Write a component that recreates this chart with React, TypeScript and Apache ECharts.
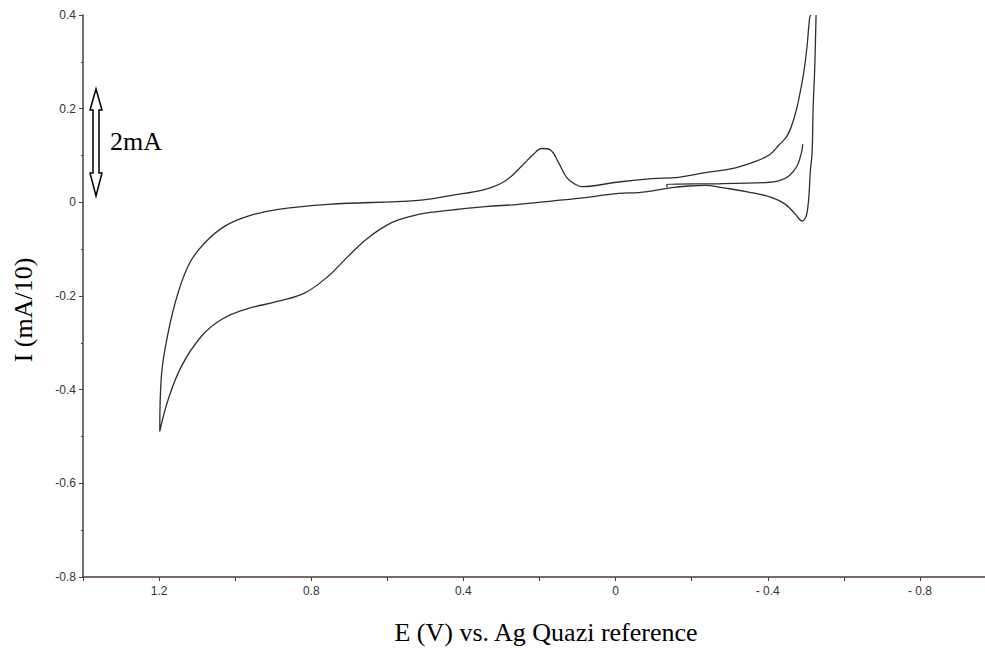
import React, { useEffect, useRef } from 'react';
import * as echarts from 'echarts';

// Main cyclic voltammogram loop (E in V, I in mA/10)
const loopE = [-0.527, -0.5237, -0.5192, -0.5166, -0.5124, -0.5034, -0.4903, -0.4729, -0.4466, -0.4113, -0.35, -0.2797, -0.236, -0.192, -0.148, -0.0605, -0.0079, 0.0797, 0.1676, 0.2553, 0.3429, 0.4308, 0.4921, 0.536, 0.5887, 0.65, 0.7026, 0.7553, 0.8166, 0.8868, 0.9745, 1.036, 1.0887, 1.1413, 1.1763, 1.1982, 1.194, 1.1763, 1.15, 1.1192, 1.0797, 1.0271, 0.9658, 0.8868, 0.7553, 0.5184, 0.4308, 0.3429, 0.2903, 0.2466, 0.2158, 0.194, 0.1718, 0.15, 0.1282, 0.1061, 0.0887, 0.0624, -0.0079, -0.0955, -0.1658, -0.236, -0.306, -0.3587, -0.4026, -0.4289, -0.4508, -0.4684, -0.4816, -0.4947, -0.5034, -0.5097, -0.5124];
const loopI = [0.4, 0.2916, 0.199, 0.106, 0.0706, -0.022, -0.04, -0.0257, -0.0043, 0.0101, 0.022, 0.0314, 0.0364, 0.0349, 0.0314, 0.0207, 0.0193, 0.0101, 0.0028, -0.0043, -0.0092, -0.0165, -0.022, -0.0293, -0.0434, -0.0755, -0.1149, -0.1576, -0.1932, -0.2111, -0.2289, -0.2503, -0.286, -0.3502, -0.4214, -0.4892, -0.3716, -0.2787, -0.1932, -0.129, -0.0862, -0.0507, -0.0293, -0.015, -0.0043, 0.0043, 0.015, 0.0278, 0.0456, 0.0776, 0.1027, 0.1149, 0.1119, 0.0849, 0.0528, 0.0385, 0.0336, 0.0349, 0.0434, 0.0507, 0.0535, 0.0635, 0.0721, 0.0849, 0.1005, 0.1219, 0.1418, 0.1775, 0.2203, 0.2774, 0.3343, 0.3914, 0.4];

// Initial partial scan segment
const startE = [-0.135, -0.135, -0.271, -0.3939, -0.4289, -0.4553, -0.4771, -0.4887, -0.4921];
const startI = [0.032, 0.0385, 0.0396, 0.0421, 0.0456, 0.0563, 0.0776, 0.1063, 0.1241];

const xTickValues = [1.2, 0.8, 0.4, 0, -0.4, -0.8];
const xTickLabels = ['1.2', '0.8', '0.4', '0', '- 0.4', '- 0.8'];
const yTickValues = [0.4, 0.2, 0, -0.2, -0.4, -0.6, -0.8];
const yTickLabels = ['0.4', '0.2', '0', '-0.2', '-0.4', '-0.6', '-0.8'];

const xTitle = 'E (V) vs. Ag Quazi reference';
const yTitle = 'I (mA/10)';
const scaleLabel = '2mA';

const lookup = (vals: number[], labels: string[]) => (v: number) => {
  const i = vals.findIndex((t) => Math.abs(t - v) < 1e-6);
  return i >= 0 ? labels[i] : '';
};

const axisColor = '#4e3b3b';
const serif = "'Liberation Serif', 'Times New Roman', serif";
const sans = "'Liberation Sans', Arial, sans-serif";

export default function App() {
  const ref = useRef<HTMLDivElement>(null);
  useEffect(() => {
    if (!ref.current) return;
    const chart = echarts.init(ref.current, undefined, { renderer: 'svg' });
    const lineStyle = { color: '#2e2e2e', width: 1.3 };
    chart.setOption({
      animation: false,
      backgroundColor: '#ffffff',
      grid: { left: 83, top: 15, right: 4, height: 562, containLabel: false },
      xAxis: {
        type: 'value',
        inverse: true,
        min: -1.0,
        max: 1.4,
        interval: 0.2,
        axisLine: { onZero: false, lineStyle: { color: axisColor, width: 1.5 } },
        axisTick: { show: true, length: 4, lineStyle: { color: axisColor, width: 1 } },
        axisLabel: {
          formatter: lookup(xTickValues, xTickLabels),
          color: '#333',
          fontSize: 12,
          fontFamily: sans,
          margin: 8,
          showMinLabel: true,
          showMaxLabel: true,
        },
        splitLine: { show: false },
      },
      yAxis: {
        type: 'value',
        min: -0.8,
        max: 0.4,
        interval: 0.2,
        axisLine: { show: true, onZero: false, lineStyle: { color: axisColor, width: 1.5 } },
        axisTick: { show: true, length: 4, lineStyle: { color: axisColor, width: 1 } },
        minorTick: { show: true, splitNumber: 2, length: 2, lineStyle: { color: axisColor, width: 1 } },
        axisLabel: {
          formatter: lookup(yTickValues, yTickLabels),
          color: '#333',
          fontSize: 12,
          fontFamily: sans,
          margin: 7,
        },
        splitLine: { show: false },
      },
      series: [
        {
          type: 'line',
          data: loopE.map((e, i) => [e, loopI[i]]),
          showSymbol: false,
          smooth: 0.4,
          lineStyle,
        },
        {
          type: 'line',
          data: startE.map((e, i) => [e, startI[i]]),
          showSymbol: false,
          smooth: 0.3,
          lineStyle,
        },
      ],
      graphic: [
        {
          type: 'text',
          x: 23,
          y: 310,
          rotation: Math.PI / 2,
          style: {
            text: yTitle,
            font: `26px ${serif}`,
            fill: '#000',
            textAlign: 'center',
            textVerticalAlign: 'middle',
          },
        },
        {
          type: 'text',
          x: 546,
          y: 632,
          style: {
            text: xTitle,
            font: `26px ${serif}`,
            fill: '#000',
            textAlign: 'center',
            textVerticalAlign: 'middle',
          },
        },
        {
          type: 'text',
          x: 110,
          y: 141,
          style: {
            text: scaleLabel,
            font: `26px ${serif}`,
            fill: '#000',
            textAlign: 'left',
            textVerticalAlign: 'middle',
          },
        },
        {
          type: 'polygon',
          shape: {
            points: [
              [96, 89], [102, 110], [99, 110], [99, 173], [102, 173],
              [96, 196], [90, 173], [93, 173], [93, 110], [90, 110],
            ],
          },
          style: { fill: '#fff', stroke: '#000', lineWidth: 1.5 },
        },
      ],
    });
    return () => chart.dispose();
  }, []);
  return (
    <div
      ref={ref}
      style={{ position: 'fixed', left: 0, top: 0, width: 1000, height: 649 }}
    />
  );
}
